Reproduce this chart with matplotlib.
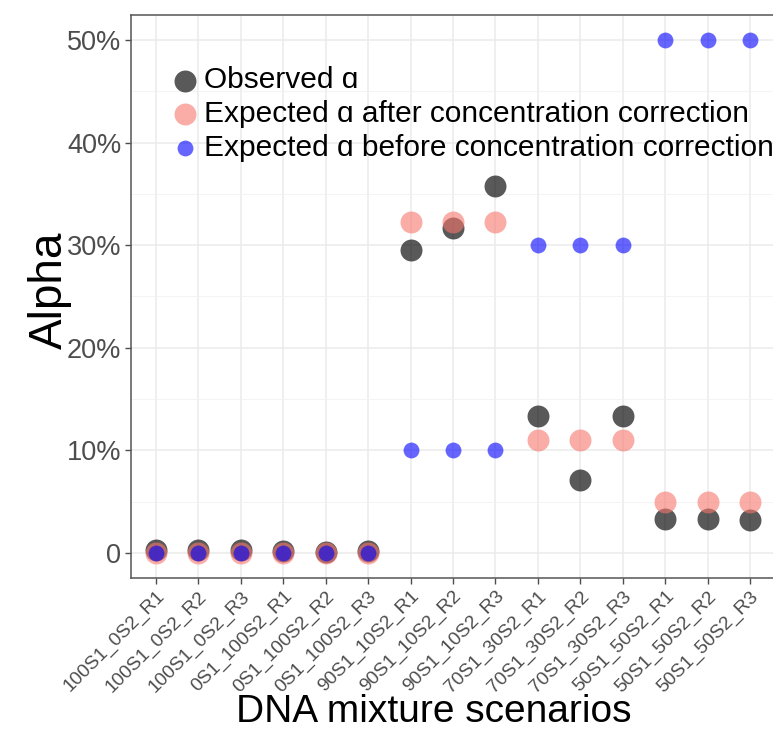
import matplotlib
matplotlib.use("Agg")
import matplotlib.pyplot as plt
from matplotlib.ticker import MultipleLocator, FuncFormatter

plt.rcParams['font.family'] = ['Liberation Sans', 'DejaVu Sans']

scenarios = ["100S1_0S2_R1", "100S1_0S2_R2", "100S1_0S2_R3",
             "0S1_100S2_R1", "0S1_100S2_R2", "0S1_100S2_R3",
             "90S1_10S2_R1", "90S1_10S2_R2", "90S1_10S2_R3",
             "70S1_30S2_R1", "70S1_30S2_R2", "70S1_30S2_R3",
             "50S1_50S2_R1", "50S1_50S2_R2", "50S1_50S2_R3"]
observed = [0.25, 0.25, 0.3, 0.15, 0.1, 0.2,
            29.5, 31.7, 35.8,
            13.4, 7.1, 13.4,
            3.3, 3.3, 3.2]
expected_after = [0, 0, 0, 0, 0, 0,
                  32.3, 32.3, 32.3,
                  11.0, 11.0, 11.0,
                  5.0, 5.0, 5.0]
expected_before = [0, 0, 0, 0, 0, 0,
                   10, 10, 10,
                   30, 30, 30,
                   50, 50, 50]
y_ticks = [0, 10, 20, 30, 40, 50]

W, H = 773, 742
fig = plt.figure(figsize=(W / 100, H / 100), dpi=100)
ax = fig.add_axes([131 / W, (H - 578) / H, (W - 131) / W, (578 - 15) / H])

x = list(range(1, len(scenarios) + 1))
ax.scatter(x, observed, s=250, color='black', alpha=0.65, linewidths=0,
           label='Observed ɑ', zorder=3)
ax.scatter(x, expected_after, s=250, color='#F8766D', alpha=0.6, linewidths=0,
           label='Expected ɑ after concentration correction', zorder=4)
ax.scatter(x, expected_before, s=130, color='blue', alpha=0.6, linewidths=0,
           label='Expected ɑ before concentration correction', zorder=5)

ax.set_xlim(1 - 25 / 42.43, 15 + 23 / 42.43)
ax.set_ylim(-25 / 10.26, 50 + 25 / 10.26)
ax.set_xticks(x)
ax.set_xticklabels(scenarios, rotation=45, ha='right', va='top',
                   rotation_mode='anchor', fontsize=13.8, color='#4D4D4D')
ax.set_yticks(y_ticks)
ax.yaxis.set_major_formatter(FuncFormatter(lambda v, p: '0' if v == 0 else f'{v:.0f}%'))
ax.yaxis.set_minor_locator(MultipleLocator(5))
ax.tick_params(axis='y', which='major', labelsize=19.5, colors='#4D4D4D',
               length=4, width=1, pad=3)
ax.tick_params(axis='y', which='minor', length=0)
ax.tick_params(axis='x', length=4, width=1, colors='#4D4D4D', pad=3)
for lab in ax.get_yticklabels():
    lab.set_color('#4D4D4D')

ax.grid(True, which='major', color='#EBEBEB', linewidth=1.1, zorder=0)
ax.grid(True, which='minor', axis='y', color='#F2F2F2', linewidth=0.6, zorder=0)
ax.set_axisbelow(True)
for side in ['left', 'bottom', 'top']:
    ax.spines[side].set_color('#555555')
    ax.spines[side].set_linewidth(1.1)
ax.spines['right'].set_visible(False)

leg = ax.legend(loc='upper left', bbox_to_anchor=(0.037, 0.93), frameon=False,
                fontsize=21.5, labelspacing=0.2, handletextpad=0.05,
                borderaxespad=0, markerscale=1.0, handlelength=1.2)

fig.text(50 / W, 1 - 290 / H, 'Alpha', rotation=90, fontsize=33,
         ha='center', va='center', color='black')
fig.text(434 / W, 1 - 712 / H, 'DNA mixture scenarios', fontsize=28,
         ha='center', va='center', color='black')

fig.savefig('out.png', dpi=100)
